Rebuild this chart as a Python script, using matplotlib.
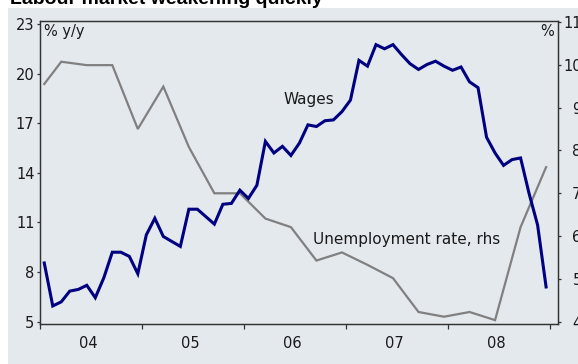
import matplotlib
matplotlib.use("Agg")
import matplotlib.pyplot as plt
from matplotlib.patches import Rectangle
from matplotlib.ticker import FixedLocator, NullFormatter

# Monthly wage growth (% y/y), Jan 2004 - Dec 2008
wages = [
    8.55, 5.95, 6.2, 6.85, 6.95, 7.2, 6.45, 7.65, 9.2, 9.2, 8.95, 7.9,
    10.25, 11.25, 10.15, 9.85, 9.55, 11.8, 11.8, 11.35, 10.9, 12.1, 12.15, 12.95,
    12.45, 13.25, 15.9, 15.2, 15.6, 15.05, 15.8, 16.9, 16.8, 17.15, 17.2, 17.7,
    18.4, 20.8, 20.45, 21.75, 21.5, 21.75, 21.15, 20.6, 20.25, 20.55, 20.75, 20.45,
    20.2, 20.4, 19.5, 19.15, 16.15, 15.2, 14.45, 14.8, 14.9, 12.75, 10.85, 7.1,
]
wage_months = list(range(len(wages)))

# Unemployment rate (%, rhs), mostly quarterly
unemp_months = [0, 2, 5, 8, 11, 14, 17, 20, 23, 26, 29, 32, 35, 38, 41, 44, 47, 50, 53, 56, 59]
unemp = [9.55, 10.07, 9.99, 9.99, 8.5, 9.49, 8.08, 7.0, 7.0, 6.41, 6.21, 5.43,
         5.62, 5.33, 5.02, 4.23, 4.12, 4.23, 4.04, 6.21, 7.61]

year_labels = ["04", "05", "06", "07", "08"]
year_bounds = [-0.5, 11.5, 23.5, 35.5, 47.5, 59.5]
left_ticks = [5, 8, 11, 14, 17, 20, 23]
right_ticks = [4, 5, 6, 7, 8, 9, 10, 11]

PANEL = "#e4e9ee"
TEXT = "#1a1a1a"

fig = plt.figure(figsize=(5.78, 3.64), dpi=100)
fig.patches.append(Rectangle((8 / 578, 0), 1, 1 - 7.5 / 364, transform=fig.transFigure,
                             facecolor=PANEL, edgecolor="none", zorder=-5))

fig.text(10 / 578, 1 - 4 / 364, "Labour market weakening quickly", fontsize=14,
         fontweight="bold", family="Liberation Sans", va="baseline", ha="left", color="black")

ax = fig.add_axes([40 / 578, 1 - 324 / 364, 518 / 578, 303 / 364])
ax2 = ax.twinx()
ax2.set_zorder(1)
ax.set_zorder(2)
ax.patch.set_visible(False)
ax2.set_facecolor(PANEL)

ax2.plot(unemp_months, unemp, color="#808080", linewidth=1.6, solid_joinstyle="miter")
ax.plot(wage_months, wages, color="#000080", linewidth=2.2, solid_joinstyle="miter")

ax.set_xlim(-0.5, 60.4)
ax.set_ylim(4.86, 23.18)
ax2.set_ylim(3.95, 11.02)

ax.set_yticks(left_ticks)
ax2.set_yticks(right_ticks)
ax.xaxis.set_major_locator(FixedLocator(year_bounds))
ax.xaxis.set_major_formatter(NullFormatter())
ax.xaxis.set_minor_locator(FixedLocator([5.2 + 12 * k for k in range(len(year_labels))]))
ax.set_xticklabels(year_labels, minor=True)

for a in (ax, ax2):
    for s in a.spines.values():
        s.set_color("#333333")
        s.set_linewidth(0.9)
ax.tick_params(axis="x", which="major", direction="out", length=3.5, width=0.9, color="#333333")
ax.tick_params(axis="x", which="minor", length=0, pad=9, labelsize=10.5, labelcolor=TEXT)
ax.tick_params(axis="y", direction="out", length=2.5, width=0.9, pad=1.5,
               labelsize=10.5, labelcolor=TEXT, color="#333333")
ax2.tick_params(axis="y", direction="out", length=2.5, width=0.9, pad=14.5,
                labelsize=10.5, labelcolor=TEXT, color="#333333")
# right-hand labels are right-aligned and run off the edge of the frame
for lab in ax2.get_yticklabels():
    lab.set_horizontalalignment("right")

ax.text(0.007, (324 - 31.5) / 303, "% y/y", transform=ax.transAxes, fontsize=10.5, color=TEXT,
        ha="left", va="center")
ax.text(0.992, (324 - 31.5) / 303, "%", transform=ax.transAxes, fontsize=10.5, color=TEXT,
        ha="right", va="center")
ax.text((284 - 40) / 518, (324 - 99.5) / 303, "Wages", transform=ax.transAxes,
        fontsize=11, color=TEXT, ha="left", va="center")
ax.text((313 - 40) / 518, (324 - 240) / 303, "Unemployment rate, rhs", transform=ax.transAxes,
        fontsize=11, color=TEXT, ha="left", va="center")

fig.savefig("out.png", dpi=100)
